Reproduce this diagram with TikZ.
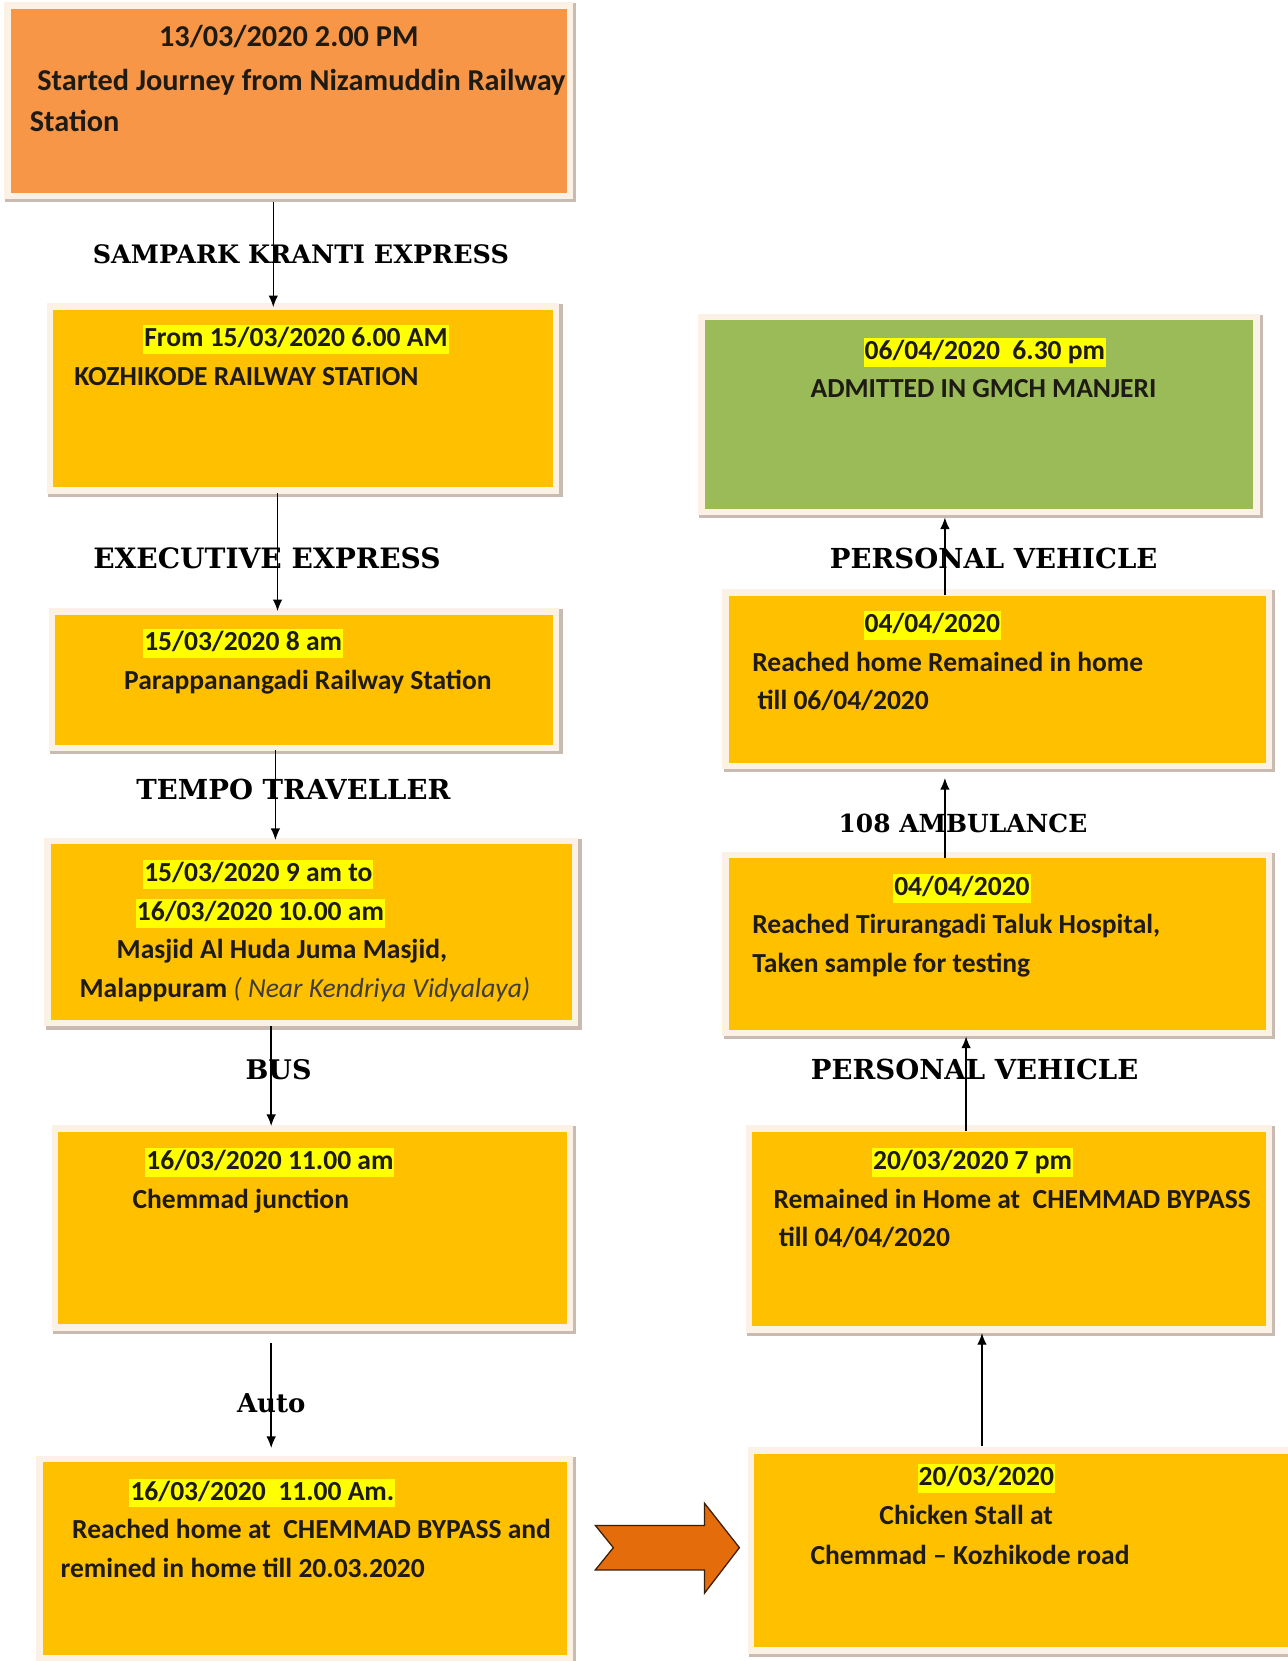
\documentclass[tikz,border=0pt]{standalone}
\usepackage{fontspec}
\setmainfont{Carlito}
\newfontfamily\serifb{DejaVu Serif}
\usetikzlibrary{arrows.meta}
\definecolor{orangebox}{HTML}{F79646}
\definecolor{yellowbox}{HTML}{FFC000}
\definecolor{greenbox}{HTML}{9BBB59}
\definecolor{hlc}{HTML}{FFFF00}
\definecolor{txtc}{HTML}{1E1A14}
\definecolor{framec}{HTML}{FBF1E4}
\definecolor{shadowc}{HTML}{C9BAB2}
\definecolor{blockc}{HTML}{E46C0A}
\definecolor{blockline}{HTML}{3A1E08}
\tikzset{
  tx/.style={anchor=base west, inner sep=0pt, font=\fontsize{26}{30}\selectfont\bfseries, text=txtc},
  txbig/.style={tx, font=\fontsize{28.6}{32}\selectfont\bfseries},
  hl/.style={tx, fill=hlc, inner xsep=1pt, inner ysep=0pt, text height=20pt, text depth=7pt},
  lab/.style={font=\serifb\fontsize{#1}{28}\selectfont\bfseries, text=black, inner sep=0pt},
  lab/.default=25,
  conn/.style={-{Latex[length=11pt,width=9pt]}, line width=1.3pt, black},
  boxfill/.style={inner sep=0pt, anchor=north west, draw=none},
}
% \tbox{name}{x1}{y1}{x2}{y2}{colour}
\newcommand{\tbox}[6]{%
  \fill[shadowc] ({#2-5},{#3-5}) rectangle ({#4+9},{#5+9});
  \fill[framec] ({#2-6},{#3-6}) rectangle ({#4+6},{#5+6});
  \node[boxfill, fill=#6, minimum width={(#4-#2)*1pt}, minimum height={(#5-#3)*1pt}] (#1) at (#2,#3) {};
}
\begin{document}
\begin{tikzpicture}[x=1pt,y=-1pt]
\useasboundingbox (0,0) rectangle (1215,1568);
\fill[white] (0,0) rectangle (1215,1568);

% ---------------- boxes ----------------
\tbox{b1}{10}{8}{535}{182}{orangebox}
\tbox{b2}{50}{292}{522}{460}{yellowbox}
\tbox{b3}{52}{580}{522}{703}{yellowbox}
\tbox{b4}{48}{797}{540}{963}{yellowbox}
\tbox{b5}{55}{1068}{535}{1250}{yellowbox}
\tbox{b6}{40}{1380}{535}{1562}{yellowbox}
\tbox{b7}{665}{302}{1183}{480}{greenbox}
\tbox{b8}{688}{562}{1195}{720}{yellowbox}
\tbox{b9}{688}{810}{1195}{972}{yellowbox}
\tbox{b10}{710}{1068}{1195}{1252}{yellowbox}
\tbox{b11}{712}{1372}{1220}{1555}{yellowbox}

% ---------------- box texts ----------------
\node[txbig] (t1a) at (150,44) {13/03/2020 2.00 PM};
\node[txbig] (t1b) at (35,85) {Started Journey from Nizamuddin Railway};
\node[txbig] (t1c) at (28,124) {Station};

\node[hl] (h2) at (135,327) {From 15/03/2020 6.00 AM};
\node[tx] (t2) at (70,364) {KOZHIKODE RAILWAY STATION};

\node[hl] (h3) at (135,614) {15/03/2020 8 am};
\node[tx] (t3) at (117,651) {Parappanangadi Railway Station};

\node[hl] (h4a) at (135,832) {15/03/2020 9 am to};
\node[hl] (h4b) at (128,869) {16/03/2020 10.00 am};
\node[tx] (t4a) at (110,905) {Masjid Al Huda Juma Masjid,};
\node[tx] (t4b) at (75,942) {Malappuram {\mdseries\itshape\color{txtc!85} ( Near Kendriya Vidyalaya)}};

\node[hl] (h5) at (137,1104) {16/03/2020 11.00 am};
\node[tx] (t5) at (125,1141) {Chemmad junction};

\node[hl] (h6) at (122,1416) {16/03/2020~~11.00 Am.};
\node[tx] (t6a) at (68,1452) {Reached home at~~CHEMMAD BYPASS and};
\node[tx] (t6b) at (57,1489) {remined in home till 20.03.2020};

\node[hl] (h7) at (815,339) {06/04/2020~~6.30 pm};
\node[tx] (t7) at (765,375) {ADMITTED IN GMCH MANJERI};

\node[hl] (h8) at (815,597) {04/04/2020};
\node[tx] (t8a) at (710,634) {Reached home Remained in home};
\node[tx] (t8b) at (715,670) {till 06/04/2020};

\node[hl] (h9) at (843,845) {04/04/2020};
\node[tx] (t9a) at (710,881) {Reached Tirurangadi Taluk Hospital,};
\node[tx] (t9b) at (710,918) {Taken sample for testing};

\node[hl] (h10) at (823,1104) {20/03/2020 7 pm};
\node[tx] (t10a) at (730,1141) {Remained in Home at~~CHEMMAD BYPASS};
\node[tx] (t10b) at (735,1177) {till 04/04/2020};

\node[hl] (h11) at (866,1402) {20/03/2020};
\node[tx] (t11a) at (830,1439) {Chicken Stall at};
\node[tx] (t11b) at (765,1477) {Chemmad – Kozhikode road};

% ---------------- connector labels ----------------
\node[lab=24] (l1) at (284,240) {SAMPARK KRANTI EXPRESS};
\node[lab=26.5] (l2) at (252,527) {EXECUTIVE EXPRESS};
\node[lab=26] (l3) at (277,745) {TEMPO TRAVELLER};
\node[lab=25.5] (l4) at (263,1010) {BUS};
\node[lab=24.5] (l5) at (256,1325) {Auto};
\node[lab=26] (l6) at (938,527) {PERSONAL VEHICLE};
\node[lab=23.5] (l7) at (909,777) {108 AMBULANCE};
\node[lab=26] (l8) at (920,1010) {PERSONAL VEHICLE};

% ---------------- connectors ----------------
\coordinate (x1) at (258,0);
\coordinate (x2) at (262,0);
\coordinate (x3) at (260,0);
\coordinate (x4) at (256,0);
\coordinate (x5) at (256,0);
\coordinate (x6) at (892,0);
\coordinate (x7) at (892,0);
\coordinate (x8) at (912,0);
\coordinate (x9) at (927,0);
\draw[conn, shorten <=8pt, shorten >=2pt] (b1.south -| x1) -- (b2.north -| x1);
\draw[conn, shorten <=5pt, shorten >=3pt] (b2.south -| x2) -- (b3.north -| x2);
\draw[conn, shorten <=5pt, shorten >=4pt] (b3.south -| x3) -- (b4.north -| x3);
\draw[conn, shorten <=5pt, shorten >=5pt] (b4.south -| x4) -- (b5.north -| x4);
\draw[conn, shorten <=17pt, shorten >=13pt] (b5.south -| x5) -- (b6.north -| x5);
\draw[conn, shorten <=0pt, shorten >=8pt] (b8.north -| x6) -- (b7.south -| x6);
\draw[conn, shorten <=0pt, shorten >=14pt] (b9.north -| x7) -- (b8.south -| x7);
\draw[conn, shorten <=0pt, shorten >=6pt] (b10.north -| x8) -- (b9.south -| x8);
\draw[conn, shorten <=7pt, shorten >=6pt] (b11.north -| x9) -- (b10.south -| x9);

% ---------------- block arrow ----------------
\filldraw[fill=blockc, draw=blockline, line width=1.2pt, line join=miter]
  (562,1440) -- (665,1440) -- (665,1419) -- (698,1461) -- (665,1504)
  -- (665,1482) -- (562,1482) -- (579,1461) -- cycle;
\end{tikzpicture}
\end{document}
